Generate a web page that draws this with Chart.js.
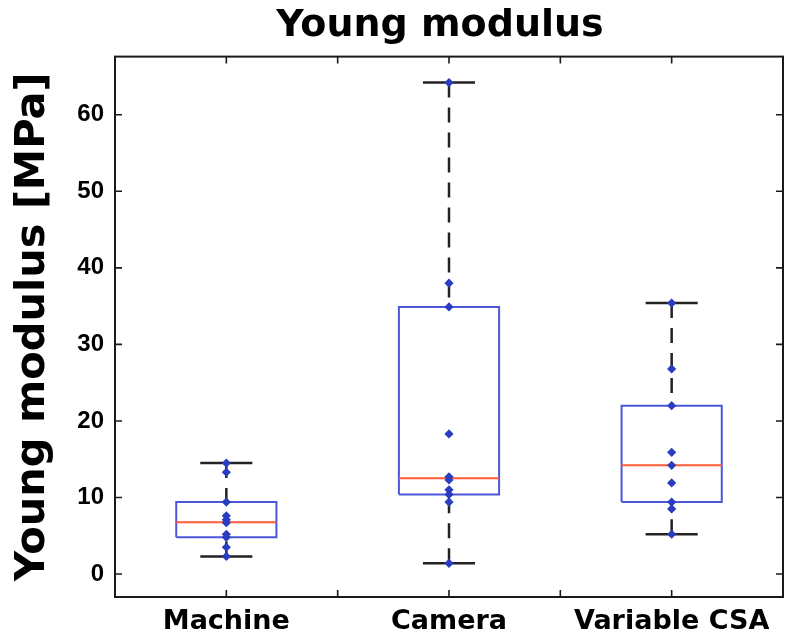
<!DOCTYPE html>
<html><head><meta charset="utf-8">
<script src="https://cdn.jsdelivr.net/npm/chart.js@4/dist/chart.umd.min.js"></script>
<style>html,body{margin:0;padding:0;background:#fff}</style>
</head><body>
<canvas id="c" width="795" height="643"></canvas>
<script>
const categories = ['Machine', 'Camera', 'Variable CSA'];
const whiskerLow = [2.3, 1.4, 5.2];
const quartile1 = [4.8, 10.4, 9.4];
const medians = [6.75, 12.5, 14.2];
const quartile3 = [9.4, 34.9, 22.0];
const whiskerHigh = [14.5, 64.2, 35.4];
const machineValues = [14.5, 13.3, 9.4, 7.6, 7.1, 6.7, 5.2, 4.8, 3.5, 2.3];
const cameraValues = [64.2, 38.0, 34.9, 18.3, 12.7, 12.3, 11.0, 10.4, 9.4, 1.4];
const csaValues = [35.4, 26.8, 22.0, 15.9, 14.2, 11.9, 9.4, 8.5, 5.2];
const yTickValues = [0, 10, 20, 30, 40, 50, 60];
const xTickValues = [1, 1.5, 2, 2.5, 3];

const HW = 0.225, CW = 0.117;
const groups = [machineValues, cameraValues, csaValues];
const boxData = [], medData = [], whiskData = [], capData = [], ptData = [];
categories.forEach((c, i) => {
  const x = i + 1;
  boxData.push({x: x - HW, y: quartile1[i]}, {x: x + HW, y: quartile1[i]}, {x: x + HW, y: quartile3[i]},
               {x: x - HW, y: quartile3[i]}, {x: x - HW, y: quartile1[i]}, {x: x, y: null});
  medData.push({x: x - HW, y: medians[i]}, {x: x + HW, y: medians[i]}, {x: x, y: null});
  whiskData.push({x: x, y: whiskerHigh[i]}, {x: x, y: quartile3[i]}, {x: x, y: null},
                 {x: x, y: whiskerLow[i]}, {x: x, y: quartile1[i]}, {x: x, y: null});
  capData.push({x: x - CW, y: whiskerHigh[i]}, {x: x + CW, y: whiskerHigh[i]}, {x: x, y: null},
               {x: x - CW, y: whiskerLow[i]}, {x: x + CW, y: whiskerLow[i]}, {x: x, y: null});
  groups[i].forEach(v => ptData.push({x: x, y: v}));
});

const lineDs = (data, color, width, order, dash) => ({
  data, showLine: true, spanGaps: false, borderColor: color, borderWidth: width,
  pointRadius: 0, borderDash: dash || [], order, borderJoinStyle: 'miter', tension: 0
});

const framePlugin = {
  id: 'frame',
  afterDatasetsDraw(chart) {
    const ctx = chart.ctx, ca = chart.chartArea;
    const xs = chart.scales.x, ys = chart.scales.y;
    ctx.save();
    ctx.strokeStyle = '#1a1a1a';
    ctx.lineWidth = 1.6;
    const L = 7;
    ctx.beginPath();
    yTickValues.forEach(v => {
      const p = ys.getPixelForValue(v);
      ctx.moveTo(ca.left, p); ctx.lineTo(ca.left + L, p);
      ctx.moveTo(ca.right, p); ctx.lineTo(ca.right - L, p);
    });
    xTickValues.forEach(v => {
      const p = xs.getPixelForValue(v);
      ctx.moveTo(p, ca.bottom); ctx.lineTo(p, ca.bottom - L);
      ctx.moveTo(p, ca.top); ctx.lineTo(p, ca.top + L);
    });
    ctx.stroke();
    ctx.lineWidth = 2;
    ctx.strokeRect(ca.left, ca.top, ca.right - ca.left, ca.bottom - ca.top);
    ctx.restore();
  },
  afterLayout(chart) {
    const t = chart.titleBlock;
    if (t) { t.left = chart.chartArea.left - 18; t.right = chart.chartArea.right; }
  }
};

new Chart(document.getElementById('c'), {
  type: 'scatter',
  data: {
    datasets: [
      {data: ptData, showLine: false, pointStyle: 'rectRot', pointRadius: 4.6, pointBackgroundColor: '#2a3cc0',
       pointBorderColor: '#2a3cc0', pointBorderWidth: 0, order: 0},
      lineDs(medData, '#ff5a36', 2, 1),
      lineDs(boxData, '#4b56d8', 2, 2),
      lineDs(whiskData, '#222222', 2.5, 3, [15, 10]),
      lineDs(capData, '#222222', 2.5, 3)
    ]
  },
  options: {
    responsive: false, animation: false,
    layout: {padding: {left: 0, right: 12, top: 0, bottom: 0}},
    plugins: {
      legend: {display: false}, tooltip: {enabled: false},
      title: {display: true, text: 'Young modulus', fullSize: false, color: '#000',
        font: {family: 'DejaVu Sans', weight: 'bold', size: 38}, padding: {top: 3, bottom: 8}}
    },
    scales: {
      x: {
        type: 'linear', min: 0.5, max: 3.5,
        grid: {display: false, drawTicks: false}, border: {display: false},
        afterBuildTicks(s) { s.ticks = xTickValues.map(v => ({value: v})); },
        afterFit(s) { s.height = 46; },
        ticks: {autoSkip: false, maxRotation: 0, minRotation: 0, padding: 9, color: '#000',
          font: {family: 'DejaVu Sans', weight: 'bold', size: 27},
          callback: v => Number.isInteger(v) ? categories[v - 1] : ''}
      },
      y: {
        type: 'linear', min: -3, max: 67.6,
        grid: {display: false, drawTicks: false}, border: {display: false},
        afterBuildTicks(s) { s.ticks = yTickValues.map(v => ({value: v})); },
        afterFit(s) { s.width = 115; },
        ticks: {padding: 11, color: '#000', font: {family: 'Liberation Sans', weight: 'bold', size: 24}},
        title: {display: true, text: 'Young modulus [MPa]', color: '#000',
          font: {family: 'DejaVu Sans', weight: 'bold', size: 41.5}, padding: {top: 8, bottom: 0}}
      }
    }
  },
  plugins: [framePlugin]
});
</script>
</body></html>
